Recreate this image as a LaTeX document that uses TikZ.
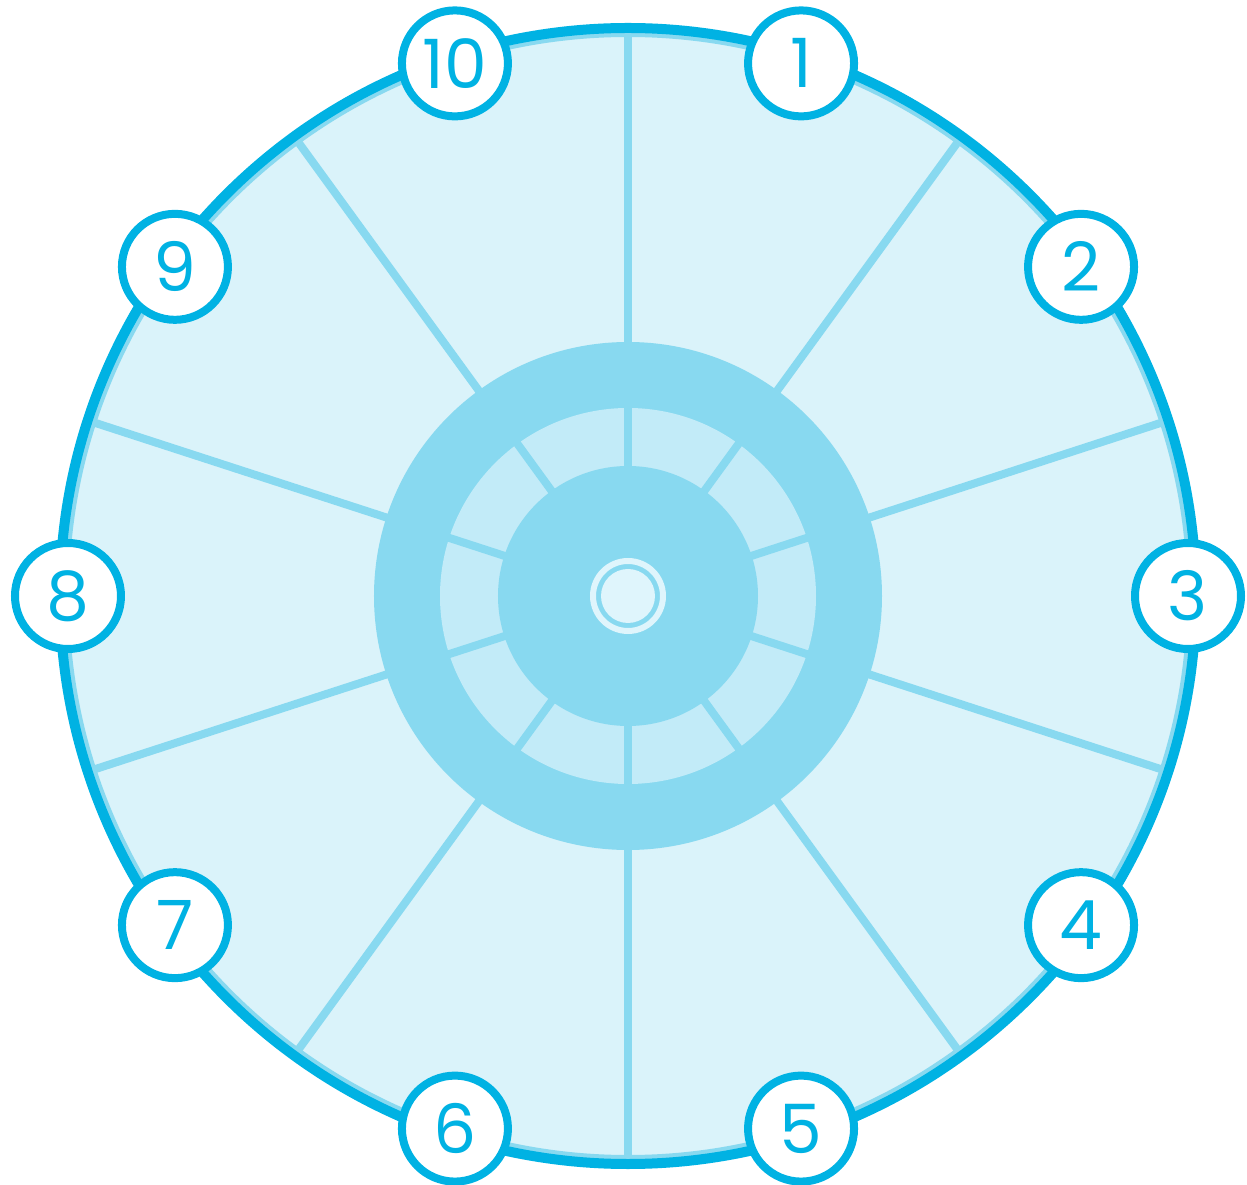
\documentclass[tikz,border=0pt]{standalone}
\usepackage{fontspec}
\setmainfont{Poppins}
\usepackage{tikz}
\usetikzlibrary{calc}
\usepackage{xcolor}
\definecolor{rimblue}{HTML}{00B2E3}
\definecolor{spokeblue}{HTML}{88D9F0}
\definecolor{paleblue}{HTML}{DAF3FA}
\definecolor{ringblue}{HTML}{C2EBF8}
\definecolor{hubwhite}{HTML}{DFF5FC}
\tikzset{
  numcircle/.style={circle, draw=rimblue, line width=8pt, fill=white,
    minimum size=106pt, inner sep=0pt, text=rimblue,
    font=\fontsize{68}{68}\selectfont},
  spoke/.style={spokeblue, line width=8pt}
}

\begin{document}
\begin{tikzpicture}[x=1pt, y=1pt]
    \useasboundingbox (-628,-589) rectangle (619,596);
    % Wheel face
    \draw[fill=paleblue, draw=spokeblue, line width=8pt] (0,0) circle (563);
    % Outer spokes
    \draw[spoke] (90:250) -- (90:563);
    \draw[spoke] (54:250) -- (54:563);
    \draw[spoke] (18:250) -- (18:563);
    \draw[spoke] (-18:250) -- (-18:563);
    \draw[spoke] (-54:250) -- (-54:563);
    \draw[spoke] (-90:250) -- (-90:563);
    \draw[spoke] (-126:250) -- (-126:563);
    \draw[spoke] (-162:250) -- (-162:563);
    \draw[spoke] (162:250) -- (162:563);
    \draw[spoke] (126:250) -- (126:563);
    % Rim
    \draw[rimblue, line width=10pt] (0,0) circle (568);
    % Thick ring and light ring
    \fill[spokeblue] (0,0) circle (254);
    \fill[ringblue] (0,0) circle (188);
    % Inner spokes
    \draw[spoke] (90:125) -- (90:192);
    \draw[spoke] (54:125) -- (54:192);
    \draw[spoke] (18:125) -- (18:192);
    \draw[spoke] (-18:125) -- (-18:192);
    \draw[spoke] (-54:125) -- (-54:192);
    \draw[spoke] (-90:125) -- (-90:192);
    \draw[spoke] (-126:125) -- (-126:192);
    \draw[spoke] (-162:125) -- (-162:192);
    \draw[spoke] (162:125) -- (162:192);
    \draw[spoke] (126:125) -- (126:192);
    % Hub
    \fill[spokeblue] (0,0) circle (130);
    \draw[hubwhite, line width=6pt] (0,0) circle (35);
    \fill[hubwhite] (0,0) circle (27);
    % Numbered markers
    \node[numcircle] (n1) at (72:560) {1};
    \node[numcircle] (n2) at (36:560) {2};
    \node[numcircle] (n3) at (0:560) {3};
    \node[numcircle] (n4) at (-36:560) {4};
    \node[numcircle] (n5) at (-72:560) {5};
    \node[numcircle] (n6) at (-108:560) {6};
    \node[numcircle] (n7) at (-144:560) {7};
    \node[numcircle] (n8) at (180:560) {8};
    \node[numcircle] (n9) at (144:560) {9};
    \node[numcircle] (n10) at (108:560) {10};
\end{tikzpicture}
\end{document}
